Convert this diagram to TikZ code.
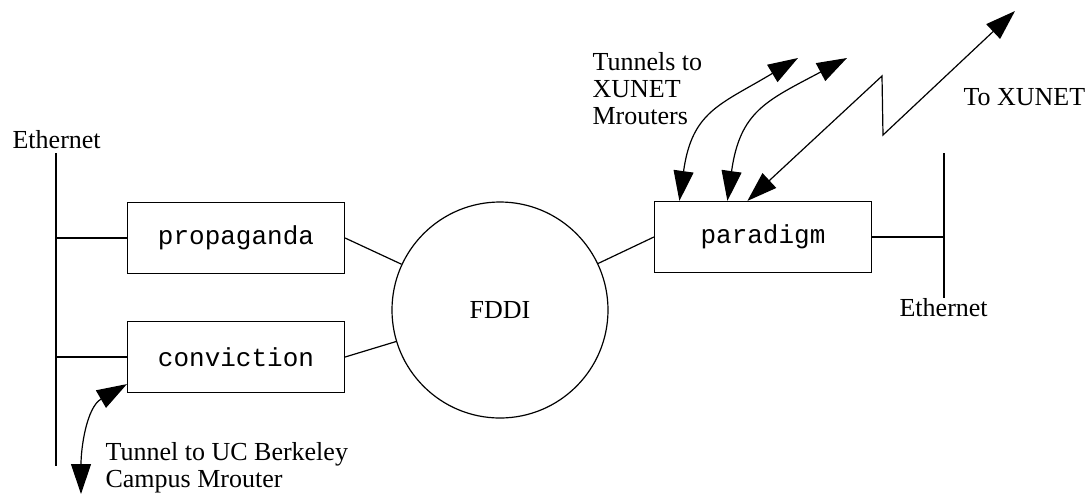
\documentclass[tikz,border=0pt]{standalone}
\usepackage{fontspec}
\setmainfont{Liberation Serif}
\setmonofont{Liberation Mono}
\usetikzlibrary{arrows.meta}

\begin{document}
\begin{tikzpicture}[
  x=0.5pt, y=0.5pt,
  line width=0.6pt,
  every node/.style={font=\fontsize{13pt}{13.4pt}\selectfont},
  host/.style={draw, rectangle, minimum width=108.5pt, minimum height=35.5pt, inner sep=0pt,
    font=\fontsize{13pt}{13.4pt}\selectfont\ttfamily},
  ring/.style={draw, circle, minimum size=108pt, inner sep=0pt},
  caption/.style={inner sep=0pt, align=left},
  twoway/.style={{Triangle[length=15pt,width=10pt]}-{Triangle[length=15pt,width=10pt]}}
]
\useasboundingbox (0,0) rectangle (1089,-495);

% hosts and the ring
\node[host] (propaganda) at (236,-238) {propaganda};
\node[host] (conviction) at (236,-357) {conviction};
\node[host] (paradigm) at (763,-237) {paradigm};
\node[ring] (fddi) at (500,-310) {FDDI};

% ethernets
\coordinate (ethLtop) at (56,-153);
\coordinate (ethLbot) at (56,-466);
\coordinate (ethRtop) at (944,-153);
\coordinate (ethRbot) at (944,-298);
\draw (ethLtop) -- (ethLbot);
\draw (ethRtop) -- (ethRbot);
\draw (propaganda.west) -- (propaganda.west -| ethLtop);
\draw (conviction.west) -- (conviction.west -| ethLtop);
\draw (paradigm.east) -- (paradigm.east -| ethRtop);
\node[caption, anchor=base west] (ethLname) at (12,-148) {Ethernet};
\node[caption, anchor=base west] (ethRname) at (899,-316) {Ethernet};

% links to the ring
\draw (propaganda.east) -- (fddi);
\draw (conviction.east) -- (fddi);
\draw (fddi) -- (paradigm.west);

% tunnels
\coordinate (xunetA) at (798,-58);
\coordinate (xunetB) at (847,-58);
\coordinate (zigA) at (882,-76);
\coordinate (zigB) at (883,-135);
\coordinate (xunetC) at (1015,-11);
\coordinate (campus) at (81,-494);
\draw[twoway] ([xshift=12.75pt]paradigm.north west) to[out=82, in=211, looseness=1.25] (xunetA);
\draw[twoway] ([xshift=36.75pt]paradigm.north west) to[out=82, in=208, looseness=1.25] (xunetB);
\draw[twoway] ([xshift=46.75pt]paradigm.north west) -- (zigA) -- (zigB) -- (xunetC);
\draw[twoway] (campus) to[out=90, in=210] ([yshift=4.5pt]conviction.south west);

\node[caption, anchor=north west] (tunnelsnote) at (592,-52) {Tunnels to\\XUNET\\Mrouters};
\node[caption, anchor=base west] (xunetnote) at (963,-105) {To XUNET};
\node[caption, anchor=north west] (campusnote) at (105,-442) {Tunnel to UC Berkeley\\Campus Mrouter};
\end{tikzpicture}
\end{document}
